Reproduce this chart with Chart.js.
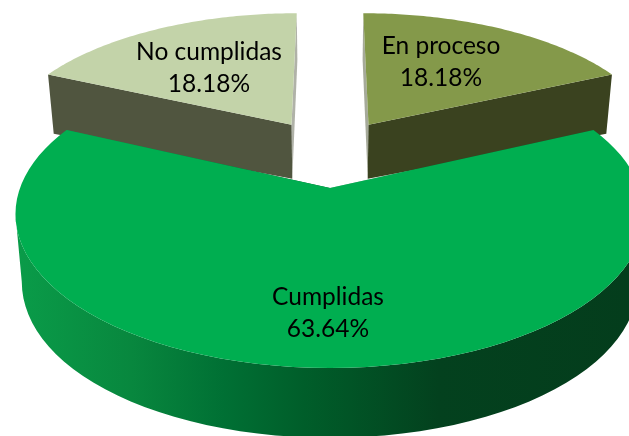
<!DOCTYPE html>
<html>
<head>
<meta charset="utf-8">
<style>
    html, body { margin: 0; padding: 0; background: #fff; overflow: hidden; }
    canvas { display: block; }
</style>
<script src="https://cdn.jsdelivr.net/npm/chart.js@4"></script>
</head>
<body>
<canvas id="myPie" width="629" height="436"></canvas>
<script>
const categories = ['En proceso', 'Cumplidas', 'No cumplidas'];
const percentages = [18.18, 63.64, 18.18];

const topColors = ['#84994a', '#00ae50', '#c3d3a9'];
const wallColors = ['#3a421f', '#005e2a', '#50553f'];
const labelAnchors = [[441, 54], [328, 305], [209, 60]];

// perspective used to lay the flat pie on the table
const view = { cx: 330, cy: 188, rx: 310, ry: 149.6, k: 0.169, depth: 58 };

function project(arc, angle, frac) {
    const mid = (arc.startAngle + arc.endAngle) / 2;
    const off = arc.options.offset / arc.outerRadius;
    const u = Math.cos(mid) * off + Math.cos(angle) * frac;
    const v = off - Math.sin(mid) * off - Math.sin(angle) * frac;
    const w = 1 + view.k * v;
    const x = view.cx + view.rx * u / w;
    const y = view.cy - view.ry * v / w;
    // bottom edge of the slab
    const d = view.depth / w + 8 * u * u;
    return { x, y, bx: view.cx + (x - view.cx) * 0.98, by: y + d };
}

function rimPoints(arc) {
    const pts = [];
    for (let i = 0; i <= 80; i++) {
        const a = arc.startAngle + (arc.endAngle - arc.startAngle) * i / 80;
        pts.push(project(arc, a, 1));
    }
    return pts;
}

function wallFill(ctx, index) {
    if (index !== 1) return wallColors[index];
    let g = ctx.createLinearGradient(15, 0, 629, 0);
    g.addColorStop(0, '#0a9c49');
    g.addColorStop(0.19, '#08873e');
    g.addColorStop(0.34, '#007034');
    g.addColorStop(0.47, wallColors[1]);
    g.addColorStop(0.69, '#03411e');
    g.addColorStop(1, '#043d1c');
    return g;
}

function cutFace(ctx, apex, p) {
    ctx.beginPath();
    ctx.moveTo(apex.x, apex.y);
    ctx.lineTo(p.x, p.y);
    ctx.lineTo(p.bx, p.by);
    ctx.lineTo(apex.bx, apex.by);
    ctx.closePath();
    ctx.fill();
}

const pie3d = {
    id: 'pie3d',
    beforeDatasetsDraw(chart) {
        const ctx = chart.ctx;
        const arcs = chart.getDatasetMeta(0).data;
        const order = arcs.map((a, i) => i).sort((a, b) => {
            const ma = (arcs[a].startAngle + arcs[a].endAngle) / 2;
            const mb = (arcs[b].startAngle + arcs[b].endAngle) / 2;
            return Math.sin(ma) - Math.sin(mb);
        });

        order.forEach(i => {
            const arc = arcs[i];
            const rim = rimPoints(arc);
            const apex = project(arc, arc.startAngle, 0);
            ctx.fillStyle = wallFill(ctx, i);

            // outer wall, only the part facing the viewer (rim running leftwards)
            ctx.beginPath();
            for (let n = 0; n < rim.length - 1; n++) {
                const a = rim[n], b = rim[n + 1];
                if (b.x >= a.x) continue;
                ctx.moveTo(a.x, a.y);
                ctx.lineTo(b.x, b.y);
                ctx.lineTo(b.bx, b.by);
                ctx.lineTo(a.bx, a.by);
                ctx.closePath();
            }
            ctx.fill();

            // cut faces, the one turned away from the viewer shows as a pale sliver
            const first = rim[0], last = rim[rim.length - 1];
            const back = first.y < last.y ? first : last;
            const front = back === first ? last : first;
            ctx.globalAlpha = 0.45;
            cutFace(ctx, apex, back);
            ctx.globalAlpha = 1;
            cutFace(ctx, apex, front);

            // top face
            ctx.fillStyle = arc.options.backgroundColor;
            ctx.beginPath();
            ctx.moveTo(apex.x, apex.y);
            rim.forEach(p => ctx.lineTo(p.x, p.y));
            ctx.closePath();
            ctx.fill();
        });
        return false;
    },
    afterDraw(chart) {
        const ctx = chart.ctx;
        ctx.save();
        ctx.fillStyle = '#000';
        ctx.font = '24.5px Lato';
        ctx.textAlign = 'center';
        categories.forEach((name, i) => {
            const [x, y] = labelAnchors[i];
            ctx.fillText(name, x, y);
            ctx.fillText(percentages[i].toFixed(2) + '%', x, y + 32);
        });
        ctx.restore();
    }
};

new Chart(document.getElementById('myPie'), {
    type: 'pie',
    data: {
        labels: categories,
        datasets: [{
            data: percentages,
            backgroundColor: topColors,
            borderWidth: 0,
            offset: 48
        }]
    },
    options: {
        responsive: false,
        animation: false,
        layout: { padding: 0 },
        plugins: {
            legend: { display: false },
            tooltip: { enabled: false }
        }
    },
    plugins: [pie3d]
});
</script>
</body>
</html>
